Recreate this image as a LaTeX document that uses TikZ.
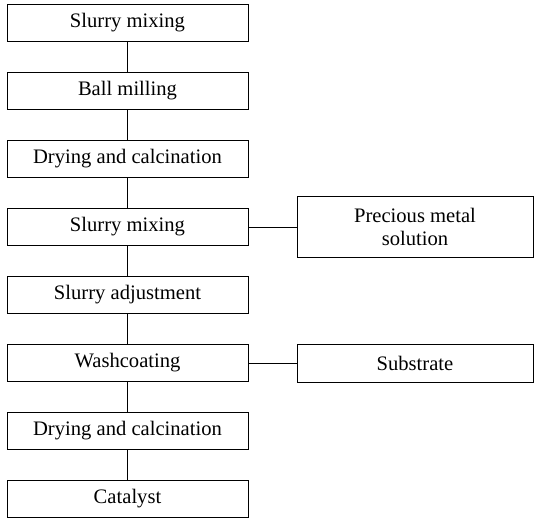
\documentclass[tikz,border=0pt]{standalone}
\usepackage{fontspec}
\setmainfont{Liberation Serif}
\usetikzlibrary{positioning}

\begin{document}
\begin{tikzpicture}[node distance=15pt and 24pt, font=\fontsize{10.3}{11.5}\selectfont,
    stage/.style={rectangle, draw, line width=0.5pt, minimum width=120.5pt, minimum height=18.5pt, inner sep=0pt},
    feed/.style={rectangle, draw, line width=0.5pt, minimum width=118pt, align=center}]
    \useasboundingbox (0,0) rectangle (267.5pt,-259pt);

    % Main process line
    \node[stage] (mix) at (63.75pt,-11.5pt) {Slurry mixing};
    \node[stage, below=of mix] (mill) {Ball milling};
    \node[stage, below=of mill] (dry) {Drying and calcination};
    \node[stage, below=of dry] (remix) {Slurry mixing};
    \node[stage, below=of remix] (adjust) {Slurry adjustment};
    \node[stage, below=of adjust] (wash) {Washcoating};
    \node[stage, below=of wash] (calc) {Drying and calcination};
    \node[stage, below=of calc] (cat) {Catalyst};

    % Side inputs
    \node[feed, minimum height=30.5pt, right=of remix] (metal) {Precious metal\\solution};
    \node[feed, minimum height=19pt, right=of wash] (sub) {Substrate};

    % Connectors
    \draw (mix) -- (mill);
    \draw (mill) -- (dry);
    \draw (dry) -- (remix);
    \draw (remix) -- (adjust);
    \draw (adjust) -- (wash);
    \draw (wash) -- (calc);
    \draw (calc) -- (cat);
    \draw (remix) -- (metal);
    \draw (wash) -- (sub);
\end{tikzpicture}
\end{document}
